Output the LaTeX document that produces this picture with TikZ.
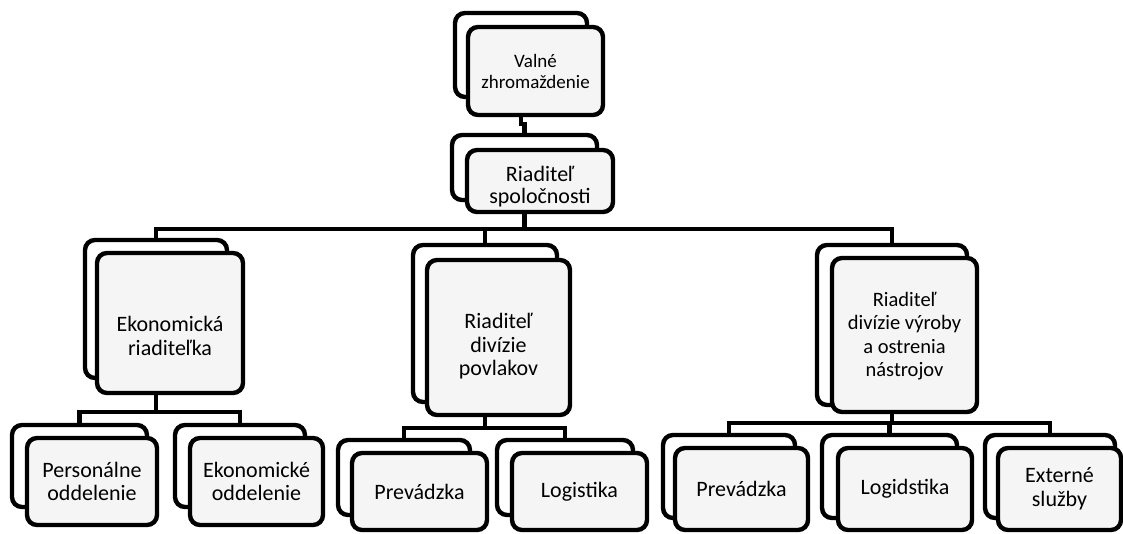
\documentclass[tikz,border=0pt]{standalone}
\usepackage{fontspec}
\setmainfont{Carlito}
\usetikzlibrary{backgrounds}
\newcommand\bx[6]{\node[#1, minimum width={#4-#2}, minimum height={#5-#3}] (#6) at ({(#2+#4)/2},{(#3+#5)/2})}
\newcommand\low[2]{\raisebox{-#1}[\height][\depth]{\begin{tabular}{@{}c@{}}#2\end{tabular}}}
\tikzset{
  backbox/.style={draw, line width=4.4pt, rounded corners=10pt, fill=white, inner sep=0pt},
  frontbox/.style={draw, line width=4.4pt, rounded corners=10pt, fill=black!4, inner sep=0pt, align=center, font=\fontsize{22}{23.5}\selectfont},
  conn/.style={line width=4.4pt}
}
\begin{document}
\begin{tikzpicture}[x=1pt,y=-1pt]
\useasboundingbox (0,0) rectangle (1123,534);
% top
\bx{backbox}{455}{13}{587}{97}{vzB} {};
\bx{frontbox, font=\fontsize{19}{21}\selectfont}{468}{27}{603}{115}{vz} {\low{3pt}{Valné\\zhromaždenie}};
\bx{backbox}{452}{135}{597}{200}{rsB} {};
\bx{frontbox, font=\fontsize{22}{22}\selectfont}{467}{150}{613}{212}{rs} {\low{7pt}{Riaditeľ\\spoločnosti}};
% level 2
\bx{backbox}{85}{240}{227}{378}{ekB} {};
\bx{frontbox}{97}{253}{243}{393}{ek} {\low{16pt}{Ekonomická\\riaditeľka}};
\bx{backbox}{413}{245}{557}{402}{pvB} {};
\bx{frontbox}{427}{260}{570}{415}{pv} {\low{10pt}{Riaditeľ\\divízie\\povlakov}};
\bx{backbox}{817}{245}{967}{405}{vyB} {};
\bx{frontbox, font=\fontsize{20.5}{23.5}\selectfont}{832}{258}{977}{412}{vy} {\low{2pt}{Riaditeľ\\divízie výroby\\a ostrenia\\nástrojov}};
% level 3
\bx{backbox}{12}{425}{147}{507}{peB} {};
\bx{frontbox}{27}{438}{157}{525}{pe} {Personálne\\oddelenie};
\bx{backbox}{175}{425}{305}{507}{eoB} {};
\bx{frontbox}{190}{438}{323}{525}{eo} {Ekonomické\\oddelenie};
\bx{backbox}{338}{440}{470}{515}{p1B} {};
\bx{frontbox}{352}{453}{487}{530}{p1} {Prevádzka};
\bx{backbox}{497}{440}{633}{515}{loB} {};
\bx{frontbox}{512}{453}{647}{530}{lo} {Logistika};
\bx{backbox}{663}{435}{795}{518}{p2B} {};
\bx{frontbox}{675}{448}{808}{530}{p2} {Prevádzka};
\bx{backbox}{822}{435}{957}{518}{ldB} {};
\bx{frontbox}{838}{448}{972}{530}{ld} {Logidstika};
\bx{backbox}{985}{435}{1115}{518}{exB} {};
\bx{frontbox}{998}{448}{1121}{530}{ex} {Externé\\služby};
% connectors
\coordinate (bus0) at (0,124);
\coordinate (bus1) at (0,229);
\coordinate (busE) at (0,412);
\coordinate (busP) at (0,428);
\coordinate (busV) at (0,423);
\begin{scope}[on background layer]
\draw[conn] (vzB.south) -- (vzB.south |- bus0) -| (rsB.north);
\draw[conn] (rsB.south) -- (rsB.south |- bus1) -| (ekB.north);
\draw[conn] (rsB.south |- bus1) -| (pvB.north);
\draw[conn] (rsB.south |- bus1) -| (vyB.north);
\draw[conn] (ekB.south) -- (ekB.south |- busE) -| (peB.north);
\draw[conn] (ekB.south |- busE) -| (eoB.north);
\draw[conn] (pvB.south) -- (pvB.south |- busP) -| (p1B.north);
\draw[conn] (pvB.south |- busP) -| (loB.north);
\draw[conn] (vyB.south) -- (vyB.south |- busV) -| (p2B.north);
\draw[conn] (vyB.south |- busV) -| (ldB.north);
\draw[conn] (vyB.south |- busV) -| (exB.north);
\end{scope}
\end{tikzpicture}
\end{document}
